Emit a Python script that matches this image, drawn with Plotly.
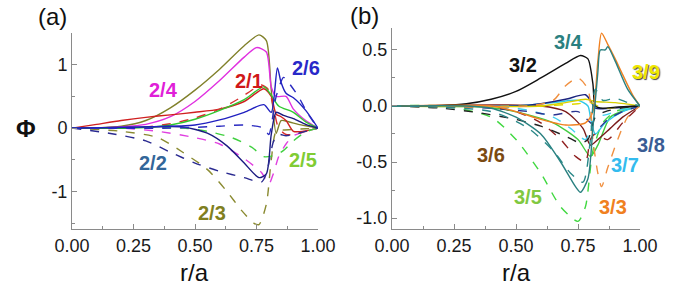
import plotly.graph_objects as go

# ---------------- Panel (a): modes 2/n ----------------
r_21s = [0, 0.1, 0.2, 0.3, 0.4, 0.5, 0.6, 0.7, 0.78, 0.81, 0.83, 0.85, 0.87, 0.9, 0.94, 1.0]
p_21s = [0, 0.06, 0.12, 0.17, 0.21, 0.25, 0.3, 0.42, 0.62, 0.5, 0.22, 0.18, 0.12, -0.05, -0.05, 0]
r_21d = [0, 0.2, 0.3, 0.4, 0.5, 0.6, 0.68, 0.74, 0.77, 0.8, 0.82, 0.84, 0.87, 0.9, 0.95, 1.0]
p_21d = [0, 0.0, 0.02, 0.07, 0.16, 0.3, 0.47, 0.62, 0.68, 0.6, 0.3, 0.0, -0.1, -0.1, -0.05, 0]

r_22s = [0, 0.2, 0.3, 0.45, 0.55, 0.63, 0.7, 0.76, 0.79, 0.81, 0.83, 0.86, 0.9, 0.95, 1.0]
p_22s = [0, 0.01, 0.02, 0.02, -0.08, -0.28, -0.55, -0.78, -0.72, -0.1, 0.25, 0.2, 0.15, 0.06, 0]
r_22d = [0, 0.15, 0.3, 0.4, 0.5, 0.6, 0.7, 0.77, 0.79, 0.82, 0.84, 0.87, 0.9, 0.95, 1.0]
p_22d = [0, -0.08, -0.2, -0.38, -0.55, -0.68, -0.78, -0.85, -0.72, -0.2, -0.1, -0.12, -0.1, -0.05, 0]

r_23s = [0, 0.1, 0.2, 0.3, 0.4, 0.5, 0.6, 0.7, 0.76, 0.79, 0.81, 0.83, 0.85, 0.88, 0.92, 0.96, 1.0]
p_23s = [0, 0.005, 0.03, 0.12, 0.32, 0.6, 0.93, 1.3, 1.47, 1.38, 0.6, -0.08, 0.12, 0.1, 0.06, 0.03, 0]
r_23d = [0, 0.2, 0.35, 0.45, 0.55, 0.63, 0.69, 0.74, 0.76, 0.79, 0.81, 0.83, 0.86, 0.9, 0.95, 1.0]
p_23d = [0, -0.05, -0.15, -0.38, -0.65, -1.0, -1.3, -1.5, -1.52, -1.2, -0.5, -0.05, -0.03, -0.02, -0.01, 0]

r_24s = [0, 0.1, 0.2, 0.3, 0.4, 0.5, 0.6, 0.7, 0.75, 0.79, 0.81, 0.83, 0.87, 0.9, 0.95, 1.0]
p_24s = [0, 0.005, 0.02, 0.06, 0.18, 0.42, 0.75, 1.12, 1.27, 1.2, 0.65, 0.5, 0.5, 0.3, 0.12, 0]
r_24d = [0, 0.2, 0.35, 0.5, 0.6, 0.7, 0.77, 0.8, 0.82, 0.84, 0.87, 0.9, 0.95, 1.0]
p_24d = [0, 0, -0.05, -0.15, -0.25, -0.48, -0.7, -0.88, -0.7, -0.45, -0.25, -0.12, -0.05, 0]

r_25s = [0, 0.25, 0.4, 0.5, 0.6, 0.7, 0.78, 0.81, 0.84, 0.9, 0.95, 1.0]
p_25s = [0, 0.0, 0.05, 0.14, 0.28, 0.45, 0.65, 0.52, 0.35, 0.25, 0.1, 0]
r_25d = [0, 0.45, 0.55, 0.65, 0.73, 0.78, 0.83, 0.86, 0.9, 0.95, 1.0]
p_25d = [0, 0, -0.05, -0.15, -0.3, -0.45, -0.42, -0.35, -0.2, -0.06, 0]

r_26s = [0, 0.3, 0.5, 0.6, 0.7, 0.78, 0.81, 0.835, 0.85, 0.87, 0.9, 0.95, 1.0]
p_26s = [0, 0.02, 0.05, 0.13, 0.25, 0.37, 0.25, 0.95, 0.72, 0.55, 0.48, 0.28, 0]
r_26d = [0, 0.4, 0.6, 0.7, 0.78, 0.8, 0.83, 0.86, 0.88, 0.92, 0.96, 1.0]
p_26d = [0, 0, 0.03, 0.05, 0.0, -0.1, 0.5, 0.8, 0.72, 0.5, 0.22, 0]

# ---------------- Panel (b): modes 3/n ----------------
r_32s = [0, 0.2, 0.3, 0.4, 0.5, 0.6, 0.7, 0.76, 0.79, 0.81, 0.82, 0.85, 0.9, 1.0]
p_32s = [0, 0.005, 0.02, 0.06, 0.13, 0.25, 0.38, 0.45, 0.42, 0.2, 0.0, -0.02, -0.01, 0]
r_32d = [0, 0.2, 0.35, 0.5, 0.6, 0.7, 0.76, 0.79, 0.82, 0.86, 0.92, 1.0]
p_32d = [0, -0.02, -0.06, -0.12, -0.18, -0.27, -0.33, -0.3, -0.1, -0.05, -0.02, 0]

r_33s = [0, 0.4, 0.5, 0.6, 0.7, 0.78, 0.81, 0.83, 0.845, 0.87, 0.9, 0.93, 0.97, 1.0]
p_33s = [0, 0, -0.05, -0.12, -0.17, -0.15, -0.05, 0.4, 0.65, 0.55, 0.42, 0.28, 0.1, 0]
r_33d = [0, 0.55, 0.65, 0.7, 0.75, 0.79, 0.81, 0.83, 0.845, 0.87, 0.91, 0.95, 1.0]
p_33d = [0, 0, 0.05, 0.18, 0.25, 0.15, -0.3, -0.6, -0.72, -0.55, -0.3, -0.1, 0]

r_34s = [0, 0.3, 0.4, 0.5, 0.6, 0.68, 0.74, 0.76, 0.79, 0.81, 0.83, 0.84, 0.86, 0.87, 0.9, 0.95, 1.0]
p_34s = [0, 0, -0.02, -0.1, -0.25, -0.5, -0.72, -0.77, -0.65, -0.2, 0.3, 0.5, 0.5, 0.53, 0.4, 0.15, 0]
r_34d = [0, 0.4, 0.55, 0.65, 0.72, 0.77, 0.8, 0.82, 0.85, 0.9, 0.95, 1.0]
p_34d = [0, -0.05, -0.2, -0.4, -0.6, -0.68, -0.3, 0.15, 0.05, 0.07, 0.03, 0]

r_35s = [0, 0.3, 0.45, 0.55, 0.65, 0.75, 0.8, 0.83, 0.88, 0.95, 1.0]
p_35s = [0, 0, -0.03, -0.08, -0.15, -0.3, -0.45, -0.35, -0.1, -0.03, 0]
r_35d = [0, 0.2, 0.4, 0.5, 0.6, 0.68, 0.75, 0.78, 0.81, 0.85, 0.9, 1.0]
p_35d = [0, 0, -0.1, -0.3, -0.6, -0.9, -1.03, -0.9, -0.4, -0.15, -0.05, 0]

r_36s = [0, 0.6, 0.7, 0.77, 0.8, 0.83, 0.88, 0.93, 1.0]
p_36s = [0, 0, -0.05, -0.2, -0.35, -0.3, -0.2, -0.1, 0]
r_36d = [0, 0.4, 0.5, 0.6, 0.68, 0.74, 0.78, 0.8, 0.82, 0.87, 0.93, 1.0]
p_36d = [0, -0.01, -0.05, -0.15, -0.3, -0.45, -0.5, -0.3, -0.25, -0.3, -0.15, 0]

r_37s = [0, 0.5, 0.65, 0.75, 0.79, 0.8, 0.82, 0.86, 0.93, 1.0]
p_37s = [0, 0, 0.03, 0.05, 0, -0.1, -0.25, -0.15, -0.05, 0]
r_37d = [0, 0.5, 0.65, 0.72, 0.78, 0.82, 0.86, 0.93, 1.0]
p_37d = [0, -0.02, -0.1, -0.2, -0.3, -0.1, -0.08, -0.03, 0]

r_38s = [0, 0.5, 0.6, 0.7, 0.78, 0.8, 0.82, 0.88, 1.0]
p_38s = [0, 0, 0.02, 0.06, 0.1, 0.05, -0.02, -0.02, 0]
r_38d = [0, 0.4, 0.55, 0.65, 0.75, 0.8, 0.83, 0.87, 0.93, 1.0]
p_38d = [0, -0.02, -0.05, -0.08, -0.05, -0.15, -0.2, -0.12, -0.05, 0]

r_39s = [0, 0.6, 0.7, 0.78, 0.82, 0.9, 1.0]
p_39s = [0, 0, 0.03, 0.06, 0.04, 0.03, 0]
r_39d = [0, 0.6, 0.75, 0.8, 0.85, 0.92, 1.0]
p_39d = [0, 0, 0.02, 0.03, -0.02, -0.01, 0]

x_ticks = [0, 0.25, 0.5, 0.75, 1.0]
x_tick_text = ["0.00", "0.25", "0.50", "0.75", "1.00"]
ya_ticks = [-1, 0, 1]
ya_tick_text = ["-1", "0", "1"]
yb_ticks = [-1.0, -0.5, 0.0, 0.5]
yb_tick_text = ["-1.0", "-0.5", "0.0", "0.5"]

# labels inside plot areas: (text, r, phi, colour)
labels_a = [("2/4", 0.37, 0.6, "#E020D8"), ("2/1", 0.72, 0.75, "#D01818"),
            ("2/6", 0.95, 0.95, "#2828C8"), ("2/2", 0.33, -0.55, "#336699"),
            ("2/5", 0.94, -0.5, "#80CC33"), ("2/3", 0.57, -1.34, "#7F7F20")]
labels_b = [("3/4", 0.71, 0.57, "#2A8080"), ("3/2", 0.53, 0.37, "#111111"),
            ("3/6", 0.40, -0.44, "#7B4A12"), ("3/7", 0.94, -0.53, "#33BBEE"),
            ("3/5", 0.55, -0.81, "#80C840"), ("3/3", 0.89, -0.9, "#F08020")]
# labels that sit past the right end of panel (b), placed in page pixels
labels_b_edge = [("3/9", 646, 72, "#F0E800"), ("3/8", 651, 145, "#3A5C94")]

FONT = "Liberation Sans, Arial, sans-serif"
W, H = 676, 287

fig = go.Figure()

series_a = [
    (r_23s, p_23s, "#80802A", "solid"), (r_23d, p_23d, "#8A8A30", "dash"),
    (r_24s, p_24s, "#E030E0", "solid"), (r_24d, p_24d, "#E040E0", "dash"),
    (r_21s, p_21s, "#D02020", "solid"), (r_21d, p_21d, "#D83030", "dash"),
    (r_25s, p_25s, "#30C830", "solid"), (r_25d, p_25d, "#40D040", "dash"),
    (r_22s, p_22s, "#1A1A80", "solid"), (r_22d, p_22d, "#2A2A90", "dash"),
    (r_26s, p_26s, "#2020C0", "solid"), (r_26d, p_26d, "#2A2AC0", "dash"),
]
series_b = [
    (r_35s, p_35s, "#40CC40", "solid"), (r_35d, p_35d, "#40D840", "dash"),
    (r_36s, p_36s, "#7A1A1A", "solid"), (r_36d, p_36d, "#902020", "dash"),
    (r_37s, p_37s, "#30C8E8", "solid"), (r_37d, p_37d, "#40D0F0", "dash"),
    (r_38s, p_38s, "#1A237E", "solid"), (r_38d, p_38d, "#2A3390", "dash"),
    (r_39s, p_39s, "#D8D000", "solid"), (r_39d, p_39d, "#E0D800", "dash"),
    (r_32s, p_32s, "#111111", "solid"), (r_32d, p_32d, "#222222", "dash"),
    (r_33s, p_33s, "#F08020", "solid"), (r_33d, p_33d, "#F09040", "dash"),
    (r_34s, p_34s, "#2A8080", "solid"), (r_34d, p_34d, "#2A8888", "dash"),
]

for xs, ys, c, d in series_a:
    fig.add_trace(go.Scatter(x=xs, y=ys, mode="lines", xaxis="x", yaxis="y",
                             line=dict(color=c, width=1.4, dash=d, shape="spline", smoothing=0.7),
                             showlegend=False, hoverinfo="skip"))
for xs, ys, c, d in series_b:
    fig.add_trace(go.Scatter(x=xs, y=ys, mode="lines", xaxis="x2", yaxis="y2",
                             line=dict(color=c, width=1.4, dash=d, shape="spline", smoothing=0.7),
                             showlegend=False, hoverinfo="skip"))

axis_common = dict(showgrid=False, zeroline=False, showline=True, linecolor="#8a8a8a",
                   linewidth=1, ticks="inside", ticklen=5, tickcolor="#8a8a8a",
                   automargin=False,
                   tickfont=dict(family=FONT, size=18, color="#1a1a1a"))

fig.update_layout(
    width=W, height=H, autosize=False, margin=dict(l=0, r=0, t=0, b=0, pad=0),
    paper_bgcolor="white", plot_bgcolor="white",
    xaxis=dict(domain=[72 / W, 318 / W], range=[0, 1.0], anchor="y",
               tickvals=x_ticks, ticktext=x_tick_text,
               minor=dict(dtick=0.125, tick0=0, ticks="inside", ticklen=3, tickcolor="#8a8a8a"),
               **axis_common),
    yaxis=dict(domain=[1 - 229 / H, 1 - 33 / H], range=[-1.59, 1.5], anchor="x",
               tickvals=ya_ticks, ticktext=ya_tick_text,
               minor=dict(dtick=0.5, tick0=0, ticks="inside", ticklen=3, tickcolor="#8a8a8a"),
               **axis_common),
    xaxis2=dict(domain=[392 / W, 640 / W], range=[0, 1.0], anchor="y2",
                tickvals=x_ticks, ticktext=x_tick_text,
                minor=dict(dtick=0.125, tick0=0, ticks="inside", ticklen=3, tickcolor="#8a8a8a"),
                **axis_common),
    yaxis2=dict(domain=[1 - 229 / H, 1 - 28 / H], range=[-1.098, 0.696], anchor="x2",
                tickvals=yb_ticks, ticktext=yb_tick_text,
                minor=dict(dtick=0.25, tick0=0, ticks="inside", ticklen=3, tickcolor="#8a8a8a"),
                **axis_common),
)

ann = []
for t, x, y, c in labels_a:
    ann.append(dict(text=f"<b>{t}</b>", x=x, y=y, xref="x", yref="y", showarrow=False,
                    font=dict(family=FONT, size=20, color=c)))
for t, x, y, c in labels_b:
    ann.append(dict(text=f"<b>{t}</b>", x=x, y=y, xref="x2", yref="y2", showarrow=False,
                    font=dict(family=FONT, size=20, color=c)))
for t, x, y, c in labels_b_edge:
    f = dict(family=FONT, size=20, color=c)
    if t == "3/9":
        f["shadow"] = "1px 1px 1px #444"
    ann.append(dict(text=f"<b>{t}</b>", x=x / W, y=1 - y / H, xref="paper", yref="paper",
                    showarrow=False, xanchor="center", yanchor="middle", font=f))

# other paper-positioned texts given in pixels from top-left
px_texts = [
    ("(a)", 52, 17, 24), ("(b)", 364, 15, 24), ("<b>Φ</b>", 26, 128, 24),
    ("r/a", 195, 272, 24), ("r/a", 516, 272, 24),
]
for t, x, y, s in px_texts:
    ann.append(dict(text=t, x=x / W, y=1 - y / H, xref="paper", yref="paper", showarrow=False,
                    xanchor="center", yanchor="middle",
                    font=dict(family=FONT, size=s, color="#111")))
fig.update_layout(annotations=ann)

fig.write_html("out.html", config={"displayModeBar": False},
               post_script="document.body.style.margin='0';document.body.style.overflow='hidden';")
